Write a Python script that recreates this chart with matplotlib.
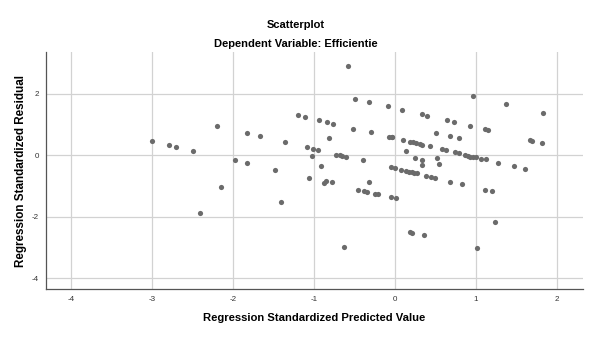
import matplotlib.pyplot as plt

# Standardized predicted values (x) and standardized residuals (y)
pred = [-3.00, -2.79, -2.70, -2.49, -2.19, -2.14, -2.40,
        -1.97, -1.83, -1.82, -1.66, -1.48, -1.41, -1.35,
        -1.19, -1.11, -1.09, -1.06, -1.02, -1.01, -0.95, -0.93, -0.91,
        -0.87, -0.85, -0.84, -0.81, -0.78, -0.76, -0.72, -0.68, -0.65, -0.63, -0.60, -0.58,
        -0.51, -0.49, -0.46, -0.39, -0.38, -0.34, -0.32, -0.32, -0.30, -0.24, -0.21,
        -0.09, -0.07, -0.05, -0.05, -0.04, -0.03, 0.00, 0.01,
        0.08, 0.09, 0.10, 0.14, 0.14, 0.18, 0.19, 0.19, 0.21, 0.21, 0.23, 0.24, 0.25, 0.26, 0.27,
        0.31, 0.33, 0.34, 0.34, 0.34, 0.36, 0.38, 0.40, 0.43, 0.45, 0.50, 0.51, 0.52, 0.54,
        0.58, 0.63, 0.64, 0.68, 0.68, 0.73, 0.74, 0.79, 0.79, 0.83,
        0.87, 0.90, 0.93, 0.93, 0.96, 0.97, 1.00, 1.02, 1.07, 1.11, 1.11, 1.12, 1.15,
        1.20, 1.24, 1.28, 1.37, 1.47, 1.61, 1.67, 1.70, 1.82, 1.83]
resid = [0.48, 0.35, 0.28, 0.15, 0.95, -1.04, -1.87,
         -0.16, -0.26, 0.73, 0.62, -0.48, -1.51, 0.42,
         1.30, 1.25, 0.26, -0.74, -0.03, 0.22, 0.17, 1.14, -0.35,
         -0.91, -0.85, 1.08, 0.57, -0.87, 1.03, 0.02, 0.00, -0.02, -2.98, -0.05, 2.89,
         0.87, 1.84, -1.12, -0.17, -1.16, -1.20, 1.74, -0.88, 0.75, -1.25, -1.27,
         1.61, 0.61, -0.39, -1.37, 0.59, 0.59, -0.42, -1.40,
         -0.47, 1.48, 0.50, 0.15, -0.50, -0.53, 0.44, -2.50, -0.56, -2.52, 0.42, -0.58, -0.09, 0.40, -0.59,
         0.37, 1.34, 0.35, -0.14, -0.32, -2.61, -0.66, 1.29, 0.29, -0.71, -0.74, 0.74, -0.09, -0.27,
         0.21, 0.17, 1.14, 0.62, -0.86, 1.08, 0.10, 0.07, 0.55, -0.95,
         0.01, -0.02, 0.95, -0.05, 1.92, -0.06, -0.07, -3.02, -0.11, 0.85, -1.12, -0.13, 0.81,
         -1.17, -2.18, -0.24, 1.66, -0.36, -0.45, 0.50, 0.48, 0.40, 1.38]

xticks = [-4, -3, -2, -1, 0, 1, 2]
yticks = [-4, -2, 0, 2]

plt.rcParams['font.family'] = ['Liberation Sans', 'DejaVu Sans']
plt.rcParams['axes.unicode_minus'] = False

fig = plt.figure(figsize=(5.96, 3.38), dpi=100)
ax = fig.add_axes([0.0767, 0.1441, 0.901, 0.7021])

ax.scatter(pred, resid, s=14, color="#6b6b6b", linewidths=0, zorder=3)

ax.set_xlim(-4.31, 2.32)
ax.set_ylim(-4.36, 3.36)
ax.set_xticks(xticks)
ax.set_yticks(yticks)
ax.grid(True, color="#d2d2d2", linewidth=0.9)
ax.set_axisbelow(True)
ax.tick_params(length=0, labelsize=5.8, colors="#333333", pad=5)

for s in ["top", "right"]:
    ax.spines[s].set_visible(False)
for s in ["left", "bottom"]:
    ax.spines[s].set_color("#555555")
    ax.spines[s].set_linewidth(0.9)

ax.set_xlabel("Regression Standardized Predicted Value", fontsize=8.1, fontweight="bold", labelpad=7)
ax.set_ylabel("Regression Standardized Residual", fontsize=8.4, fontweight="bold", labelpad=3)

fig.text(0.497, 1 - 25 / 338, "Scatterplot", ha="center", va="center", fontsize=8, fontweight="bold")
fig.text(0.497, 1 - 44 / 338, "Dependent Variable: Efficientie", ha="center", va="center",
         fontsize=8, fontweight="bold")

plt.savefig("out.png", dpi=100)
